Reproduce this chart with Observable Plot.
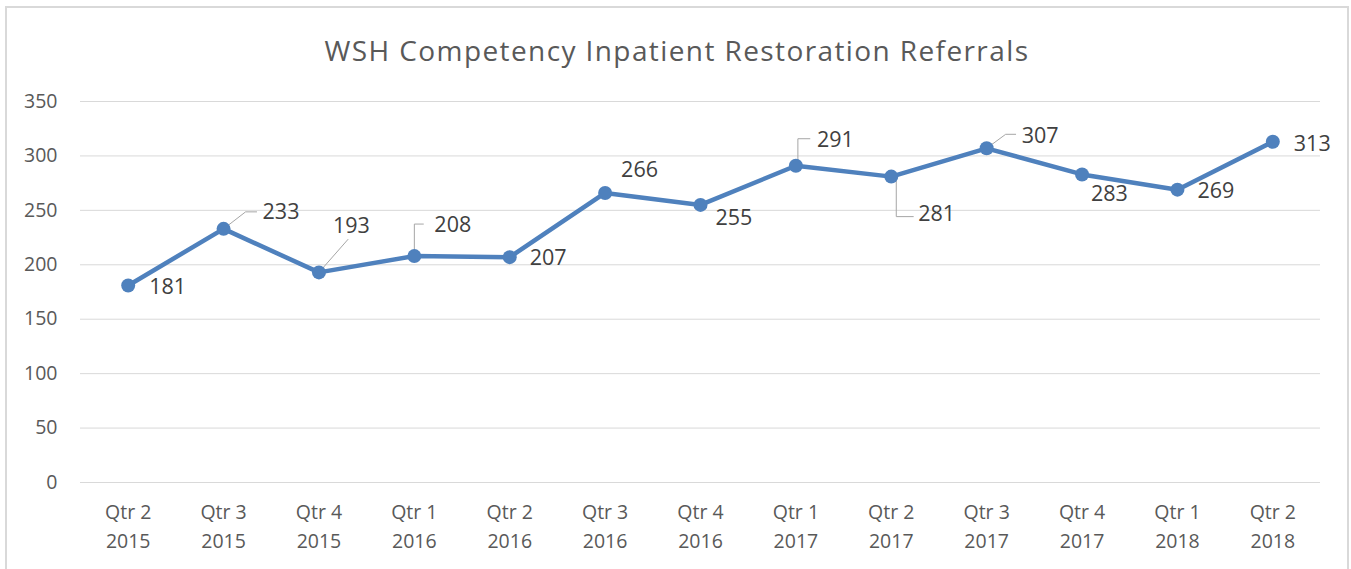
<!DOCTYPE html>
<html>
<head>
<meta charset="utf-8">
<script src="https://cdn.jsdelivr.net/npm/d3@7"></script>
<script src="https://cdn.jsdelivr.net/npm/@observablehq/plot@0.6"></script>
<style>
  html, body { margin: 0; padding: 0; background: #ffffff; }
  body { width: 1351px; height: 569px; overflow: hidden; position: relative; font-family: "Open Sans", sans-serif; }
  #frame { position: absolute; left: 5px; top: 6px; width: 1340px; height: 620px; border: 2px solid #d9d9d9; border-bottom: none; }
  #title { position: relative; height: 90px; box-sizing: border-box; padding-top: 31px; line-height: 38px; text-align: center; font-size: 28px; letter-spacing: 1.4px; color: #595959; padding-left: 3px; }
  #chart { position: relative; }
</style>
</head>
<body>
<div id="frame"></div>
<div id="title">WSH Competency Inpatient Restoration Referrals</div>
<div id="chart"></div>
<script>
// ---- data ----
const quarters = ["Qtr 2","Qtr 3","Qtr 4","Qtr 1","Qtr 2","Qtr 3","Qtr 4","Qtr 1","Qtr 2","Qtr 3","Qtr 4","Qtr 1","Qtr 2"];
const years = ["2015","2015","2015","2016","2016","2016","2016","2017","2017","2017","2017","2018","2018"];
const referrals = [181, 233, 193, 208, 207, 266, 255, 291, 281, 307, 283, 269, 313];
const yTicks = [0, 50, 100, 150, 200, 250, 300, 350];

// ---- label placement (pixel offsets from each point; styling only) ----
const labelOffsets = [[21,2],[39,-17],[14,-46],[20,-31],[20,1],[16,-23],[15,13],[21,-26],[27,37],[35,-12],[9,20],[20,1],[21,2]];
const leaderPaths = {
  1: [[0,0],[22,-17],[33,-17]],
  2: [[0,0],[29,-33]],
  3: [[0,0],[0,-32],[9,-32]],
  7: [[2,0],[2,-27],[14,-27]],
  8: [[5,0],[5,40],[22,40]],
  9: [[0,0],[19,-14],[29,-14]]
};

// ---- layout ----
const W = 1351, H = 479;
const mL = 80, mR = 31, mT = 11, mB = 87;
const colW = (W - mL - mR) / quarters.length;
const pxPerUnit = (H - mT - mB) / 350;
const blue = "#4f81bd";
const font = "Open Sans, sans-serif";

const idx = quarters.map((_, i) => i);
const pts = idx.map(i => ({i, v: referrals[i], q: quarters[i], yr: years[i]}));
const labels = idx.map(i => ({
  x: i + labelOffsets[i][0] / colW,
  y: referrals[i] - labelOffsets[i][1] / pxPerUnit,
  t: String(referrals[i])
}));
const leaders = [];
for (const k of Object.keys(leaderPaths)) {
  const i = +k;
  for (const [dx, dy] of leaderPaths[k]) leaders.push({k: i, x: i + dx / colW, y: referrals[i] - dy / pxPerUnit});
}

const chart = Plot.plot({
  width: W,
  height: H,
  marginLeft: mL, marginRight: mR, marginTop: mT, marginBottom: mB,
  style: {fontFamily: font, fontSize: "19.5px", color: "#595959", background: "transparent", overflow: "visible"},
  x: {type: "linear", domain: [-0.5, quarters.length - 0.5], axis: null},
  y: {domain: [0, 350], ticks: yTicks, tickSize: 0, tickPadding: 23, label: null, tickFormat: d => String(d)},
  marks: [
    Plot.ruleY(yTicks, {stroke: "#d9d9d9", strokeWidth: 1}),
    Plot.line(leaders, {x: "x", y: "y", z: "k", stroke: "#a6a6a6", strokeWidth: 1}),
    Plot.line(pts, {x: "i", y: "v", stroke: blue, strokeWidth: 4.5, strokeLinejoin: "round"}),
    Plot.dot(pts, {x: "i", y: "v", r: 7, fill: blue, stroke: "none"}),
    Plot.text(labels, {x: "x", y: "y", text: "t", textAnchor: "start", fontSize: 21.5, fill: "#404040"}),
    Plot.text(pts, {x: "i", y: () => 0, text: "q", dy: 30, fontSize: 19.5, fill: "#595959"}),
    Plot.text(pts, {x: "i", y: () => 0, text: "yr", dy: 59, fontSize: 19.5, fill: "#595959"})
  ]
});
document.getElementById("chart").appendChild(chart);
</script>
</body>
</html>
